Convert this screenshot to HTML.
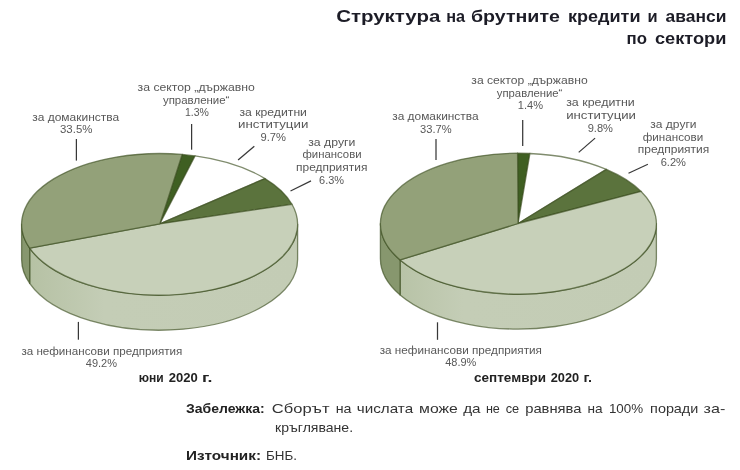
<!DOCTYPE html>
<html lang="bg">
<head>
<meta charset="utf-8">
<title>Структура на брутните кредити и аванси по сектори</title>
<style>
html,body{margin:0;padding:0;background:#fff;}
body{width:740px;height:470px;overflow:hidden;}
svg{display:block;font-family:"Liberation Sans",sans-serif;}
</style>
</head>
<body>
<svg width="740" height="470" viewBox="0 0 740 470">
<rect width="740" height="470" fill="#ffffff"/>
<defs>
<linearGradient id="sg1" gradientUnits="userSpaceOnUse" x1="21" y1="0" x2="299" y2="0"><stop offset="0" stop-color="#b4c0a2"/><stop offset="0.3" stop-color="#c4cdb6"/><stop offset="1" stop-color="#c3ccb5"/></linearGradient>
<linearGradient id="sg2" gradientUnits="userSpaceOnUse" x1="380" y1="0" x2="657" y2="0"><stop offset="0" stop-color="#b4c0a2"/><stop offset="0.3" stop-color="#c4cdb6"/><stop offset="1" stop-color="#c3ccb5"/></linearGradient>
</defs>
<path d="M297.6 224.25 A138 70.75 0 0 1 29.68 248.1 L29.68 283.3 A138 70.75 0 0 0 297.6 259.45 Z" fill="url(#sg1)" stroke="#3c4f20" stroke-width="1.3" stroke-opacity="0.65" stroke-linejoin="round"/>
<path d="M29.68 248.1 A138 70.75 0 0 1 21.6 224.25 L21.6 259.45 A138 70.75 0 0 0 29.68 283.3 Z" fill="#87976e" stroke="#3c4f20" stroke-width="1.3" stroke-opacity="0.65" stroke-linejoin="round"/>
<path d="M159.8 223.9 L182.14 154.45 A138 70.75 0 0 1 195.08 155.88 Z" fill="#3f5f22" stroke="#3c4f20" stroke-width="1.3" stroke-opacity="0.65" stroke-linejoin="round"/>
<path d="M159.8 223.9 L195.08 155.88 A138 70.75 0 0 1 265 178.58 Z" fill="#ffffff" stroke="#3c4f20" stroke-width="1.3" stroke-opacity="0.65" stroke-linejoin="round"/>
<path d="M159.8 223.9 L265 178.58 A138 70.75 0 0 1 291.99 204.27 Z" fill="#5b733d" stroke="#3c4f20" stroke-width="1.3" stroke-opacity="0.65" stroke-linejoin="round"/>
<path d="M159.8 223.9 L291.99 204.27 A138 70.75 0 0 1 29.68 248.1 Z" fill="#c7d0b9" stroke="#3c4f20" stroke-width="1.3" stroke-opacity="0.65" stroke-linejoin="round"/>
<path d="M159.8 223.9 L29.68 248.1 A138 70.75 0 0 1 182.14 154.45 Z" fill="#93a179" stroke="#3c4f20" stroke-width="1.3" stroke-opacity="0.65" stroke-linejoin="round"/>
<path d="M656.4 223.65 A138 70.4 0 0 1 400.11 259.91 L400.11 294.91 A138 70.4 0 0 0 656.4 258.65 Z" fill="url(#sg2)" stroke="#3c4f20" stroke-width="1.3" stroke-opacity="0.65" stroke-linejoin="round"/>
<path d="M400.11 259.91 A138 70.4 0 0 1 380.4 223.65 L380.4 258.65 A138 70.4 0 0 0 400.11 294.91 Z" fill="#87976e" stroke="#3c4f20" stroke-width="1.3" stroke-opacity="0.65" stroke-linejoin="round"/>
<path d="M518.1 223.5 L517.56 153.25 A138 70.4 0 0 1 529.95 153.5 Z" fill="#3f5f22" stroke="#3c4f20" stroke-width="1.3" stroke-opacity="0.65" stroke-linejoin="round"/>
<path d="M518.1 223.5 L529.95 153.5 A138 70.4 0 0 1 606.36 169.41 Z" fill="#ffffff" stroke="#3c4f20" stroke-width="1.3" stroke-opacity="0.65" stroke-linejoin="round"/>
<path d="M518.1 223.5 L606.36 169.41 A138 70.4 0 0 1 641.14 191.47 Z" fill="#5b733d" stroke="#3c4f20" stroke-width="1.3" stroke-opacity="0.65" stroke-linejoin="round"/>
<path d="M518.1 223.5 L641.14 191.47 A138 70.4 0 0 1 400.11 259.91 Z" fill="#c7d0b9" stroke="#3c4f20" stroke-width="1.3" stroke-opacity="0.65" stroke-linejoin="round"/>
<path d="M518.1 223.5 L400.11 259.91 A138 70.4 0 0 1 517.56 153.25 Z" fill="#93a179" stroke="#3c4f20" stroke-width="1.3" stroke-opacity="0.65" stroke-linejoin="round"/>
<text x="75.7" y="120.6" font-size="11.5" text-anchor="middle" font-weight="normal" fill="#585858" textLength="87" lengthAdjust="spacingAndGlyphs">за домакинства</text>
<text x="76.2" y="132.8" font-size="11.5" text-anchor="middle" font-weight="normal" fill="#585858" textLength="32.4" lengthAdjust="spacingAndGlyphs">33.5%</text>
<line x1="76.4" y1="139" x2="76.4" y2="160.6" stroke="#383838" stroke-width="1.25"/>
<text x="196.2" y="91.1" font-size="11.5" text-anchor="middle" font-weight="normal" fill="#585858" textLength="117.3" lengthAdjust="spacingAndGlyphs">за сектор „държавно</text>
<text x="196.2" y="103.9" font-size="11.5" text-anchor="middle" font-weight="normal" fill="#585858" textLength="66.5" lengthAdjust="spacingAndGlyphs">управление“</text>
<text x="196.9" y="116.1" font-size="11.5" text-anchor="middle" font-weight="normal" fill="#585858" textLength="24" lengthAdjust="spacingAndGlyphs">1.3%</text>
<line x1="191.6" y1="124" x2="191.6" y2="149.7" stroke="#383838" stroke-width="1.25"/>
<text x="273.2" y="116.4" font-size="11.5" text-anchor="middle" font-weight="normal" fill="#585858" textLength="67.5" lengthAdjust="spacingAndGlyphs">за кредитни</text>
<text x="273.2" y="128.4" font-size="11.5" text-anchor="middle" font-weight="normal" fill="#585858" textLength="70.3" lengthAdjust="spacingAndGlyphs">институции</text>
<text x="273.2" y="140.6" font-size="11.5" text-anchor="middle" font-weight="normal" fill="#585858" textLength="25.5" lengthAdjust="spacingAndGlyphs">9.7%</text>
<line x1="254.3" y1="146.2" x2="238.1" y2="160" stroke="#383838" stroke-width="1.25"/>
<text x="331.8" y="145.8" font-size="11.5" text-anchor="middle" font-weight="normal" fill="#585858" textLength="47.1" lengthAdjust="spacingAndGlyphs">за други</text>
<text x="332" y="158.3" font-size="11.5" text-anchor="middle" font-weight="normal" fill="#585858" textLength="59.1" lengthAdjust="spacingAndGlyphs">финансови</text>
<text x="331.7" y="171.1" font-size="11.5" text-anchor="middle" font-weight="normal" fill="#585858" textLength="71.3" lengthAdjust="spacingAndGlyphs">предприятия</text>
<text x="331.6" y="183.6" font-size="11.5" text-anchor="middle" font-weight="normal" fill="#585858" textLength="25" lengthAdjust="spacingAndGlyphs">6.3%</text>
<line x1="311" y1="180.9" x2="290.5" y2="191" stroke="#383838" stroke-width="1.25"/>
<line x1="78.4" y1="321.9" x2="78.4" y2="339.7" stroke="#383838" stroke-width="1.25"/>
<text x="101.9" y="354.7" font-size="11.5" text-anchor="middle" font-weight="normal" fill="#585858" textLength="161" lengthAdjust="spacingAndGlyphs">за нефинансови предприятия</text>
<text x="101.4" y="366.6" font-size="11.5" text-anchor="middle" font-weight="normal" fill="#585858" textLength="31.2" lengthAdjust="spacingAndGlyphs">49.2%</text>
<text x="138.8" y="382.1" font-size="12" text-anchor="start" font-weight="bold" fill="#222" textLength="24.9" lengthAdjust="spacingAndGlyphs">юни</text>
<text x="168.8" y="382.1" font-size="12" text-anchor="start" font-weight="bold" fill="#222" textLength="29" lengthAdjust="spacingAndGlyphs">2020</text>
<text x="201.9" y="382.1" font-size="12" text-anchor="start" font-weight="bold" fill="#222" textLength="10.5" lengthAdjust="spacingAndGlyphs">г.</text>
<text x="435.4" y="120.1" font-size="11.5" text-anchor="middle" font-weight="normal" fill="#585858" textLength="86.4" lengthAdjust="spacingAndGlyphs">за домакинства</text>
<text x="435.8" y="132.5" font-size="11.5" text-anchor="middle" font-weight="normal" fill="#585858" textLength="31.6" lengthAdjust="spacingAndGlyphs">33.7%</text>
<line x1="436" y1="139" x2="436" y2="160" stroke="#383838" stroke-width="1.25"/>
<text x="529.5" y="84.1" font-size="11.5" text-anchor="middle" font-weight="normal" fill="#585858" textLength="116.3" lengthAdjust="spacingAndGlyphs">за сектор „държавно</text>
<text x="529.6" y="96.6" font-size="11.5" text-anchor="middle" font-weight="normal" fill="#585858" textLength="65.6" lengthAdjust="spacingAndGlyphs">управление“</text>
<text x="530.4" y="109.4" font-size="11.5" text-anchor="middle" font-weight="normal" fill="#585858" textLength="25.2" lengthAdjust="spacingAndGlyphs">1.4%</text>
<line x1="522.7" y1="120" x2="522.7" y2="146" stroke="#383838" stroke-width="1.25"/>
<text x="600.5" y="106.3" font-size="11.5" text-anchor="middle" font-weight="normal" fill="#585858" textLength="68.6" lengthAdjust="spacingAndGlyphs">за кредитни</text>
<text x="601.1" y="118.8" font-size="11.5" text-anchor="middle" font-weight="normal" fill="#585858" textLength="69.8" lengthAdjust="spacingAndGlyphs">институции</text>
<text x="600.3" y="131.6" font-size="11.5" text-anchor="middle" font-weight="normal" fill="#585858" textLength="25.3" lengthAdjust="spacingAndGlyphs">9.8%</text>
<line x1="595.1" y1="138.1" x2="578.7" y2="152.4" stroke="#383838" stroke-width="1.25"/>
<text x="673.4" y="128.1" font-size="11.5" text-anchor="middle" font-weight="normal" fill="#585858" textLength="46.2" lengthAdjust="spacingAndGlyphs">за други</text>
<text x="673" y="140.6" font-size="11.5" text-anchor="middle" font-weight="normal" fill="#585858" textLength="60.5" lengthAdjust="spacingAndGlyphs">финансови</text>
<text x="673.5" y="153.1" font-size="11.5" text-anchor="middle" font-weight="normal" fill="#585858" textLength="71.5" lengthAdjust="spacingAndGlyphs">предприятия</text>
<text x="673.3" y="165.9" font-size="11.5" text-anchor="middle" font-weight="normal" fill="#585858" textLength="25.3" lengthAdjust="spacingAndGlyphs">6.2%</text>
<line x1="647.9" y1="164.3" x2="628.5" y2="173.3" stroke="#383838" stroke-width="1.25"/>
<line x1="437.5" y1="322.3" x2="437.5" y2="339.8" stroke="#383838" stroke-width="1.25"/>
<text x="460.8" y="353.9" font-size="11.5" text-anchor="middle" font-weight="normal" fill="#585858" textLength="162.2" lengthAdjust="spacingAndGlyphs">за нефинансови предприятия</text>
<text x="460.8" y="365.6" font-size="11.5" text-anchor="middle" font-weight="normal" fill="#585858" textLength="31.1" lengthAdjust="spacingAndGlyphs">48.9%</text>
<text x="474.1" y="382.1" font-size="12" text-anchor="start" font-weight="bold" fill="#222" textLength="71.9" lengthAdjust="spacingAndGlyphs">септември</text>
<text x="550.7" y="382.1" font-size="12" text-anchor="start" font-weight="bold" fill="#222" textLength="28.4" lengthAdjust="spacingAndGlyphs">2020</text>
<text x="583.4" y="382.1" font-size="12" text-anchor="start" font-weight="bold" fill="#222" textLength="8.6" lengthAdjust="spacingAndGlyphs">г.</text>
<text x="336.2" y="21.5" font-size="16.5" text-anchor="start" font-weight="bold" fill="#1c1c26" textLength="104.1" lengthAdjust="spacingAndGlyphs">Структура</text>
<text x="446.2" y="21.5" font-size="16.5" text-anchor="start" font-weight="bold" fill="#1c1c26" textLength="18.9" lengthAdjust="spacingAndGlyphs">на</text>
<text x="471" y="21.5" font-size="16.5" text-anchor="start" font-weight="bold" fill="#1c1c26" textLength="88.9" lengthAdjust="spacingAndGlyphs">брутните</text>
<text x="568" y="21.5" font-size="16.5" text-anchor="start" font-weight="bold" fill="#1c1c26" textLength="72.5" lengthAdjust="spacingAndGlyphs">кредити</text>
<text x="647.4" y="21.5" font-size="16.5" text-anchor="start" font-weight="bold" fill="#1c1c26" textLength="10.1" lengthAdjust="spacingAndGlyphs">и</text>
<text x="665.6" y="21.5" font-size="16.5" text-anchor="start" font-weight="bold" fill="#1c1c26" textLength="60.8" lengthAdjust="spacingAndGlyphs">аванси</text>
<text x="626.6" y="44.1" font-size="16.5" text-anchor="start" font-weight="bold" fill="#1c1c26" textLength="20.4" lengthAdjust="spacingAndGlyphs">по</text>
<text x="655" y="44.1" font-size="16.5" text-anchor="start" font-weight="bold" fill="#1c1c26" textLength="71.4" lengthAdjust="spacingAndGlyphs">сектори</text>
<text x="186" y="413.4" font-size="13" text-anchor="start" font-weight="bold" fill="#222" textLength="78.6" lengthAdjust="spacingAndGlyphs">Забележка:</text>
<text x="271.8" y="413.4" font-size="13" text-anchor="start" font-weight="normal" fill="#333" textLength="57.7" lengthAdjust="spacingAndGlyphs">Сборът</text>
<text x="335.7" y="413.4" font-size="13" text-anchor="start" font-weight="normal" fill="#333" textLength="15.8" lengthAdjust="spacingAndGlyphs">на</text>
<text x="356.8" y="413.4" font-size="13" text-anchor="start" font-weight="normal" fill="#333" textLength="56.3" lengthAdjust="spacingAndGlyphs">числата</text>
<text x="419.1" y="413.4" font-size="13" text-anchor="start" font-weight="normal" fill="#333" textLength="38.8" lengthAdjust="spacingAndGlyphs">може</text>
<text x="463.2" y="413.4" font-size="13" text-anchor="start" font-weight="normal" fill="#333" textLength="17.4" lengthAdjust="spacingAndGlyphs">да</text>
<text x="485.9" y="413.4" font-size="13" text-anchor="start" font-weight="normal" fill="#333" textLength="14" lengthAdjust="spacingAndGlyphs">не</text>
<text x="505.7" y="413.4" font-size="13" text-anchor="start" font-weight="normal" fill="#333" textLength="13.5" lengthAdjust="spacingAndGlyphs">се</text>
<text x="525.2" y="413.4" font-size="13" text-anchor="start" font-weight="normal" fill="#333" textLength="56.3" lengthAdjust="spacingAndGlyphs">равнява</text>
<text x="587.5" y="413.4" font-size="13" text-anchor="start" font-weight="normal" fill="#333" textLength="15.1" lengthAdjust="spacingAndGlyphs">на</text>
<text x="608.9" y="413.4" font-size="13" text-anchor="start" font-weight="normal" fill="#333" textLength="34.2" lengthAdjust="spacingAndGlyphs">100%</text>
<text x="650.1" y="413.4" font-size="13" text-anchor="start" font-weight="normal" fill="#333" textLength="48.2" lengthAdjust="spacingAndGlyphs">поради</text>
<text x="703.6" y="413.4" font-size="13" text-anchor="start" font-weight="normal" fill="#333" textLength="21.7" lengthAdjust="spacingAndGlyphs">за-</text>
<text x="275.1" y="431.5" font-size="13" text-anchor="start" font-weight="normal" fill="#333" textLength="78" lengthAdjust="spacingAndGlyphs">кръгляване.</text>
<text x="186" y="459.9" font-size="13" text-anchor="start" font-weight="bold" fill="#222" textLength="75" lengthAdjust="spacingAndGlyphs">Източник:</text>
<text x="266" y="459.9" font-size="13" text-anchor="start" font-weight="normal" fill="#333" textLength="31" lengthAdjust="spacingAndGlyphs">БНБ.</text>
</svg>
</body>
</html>
